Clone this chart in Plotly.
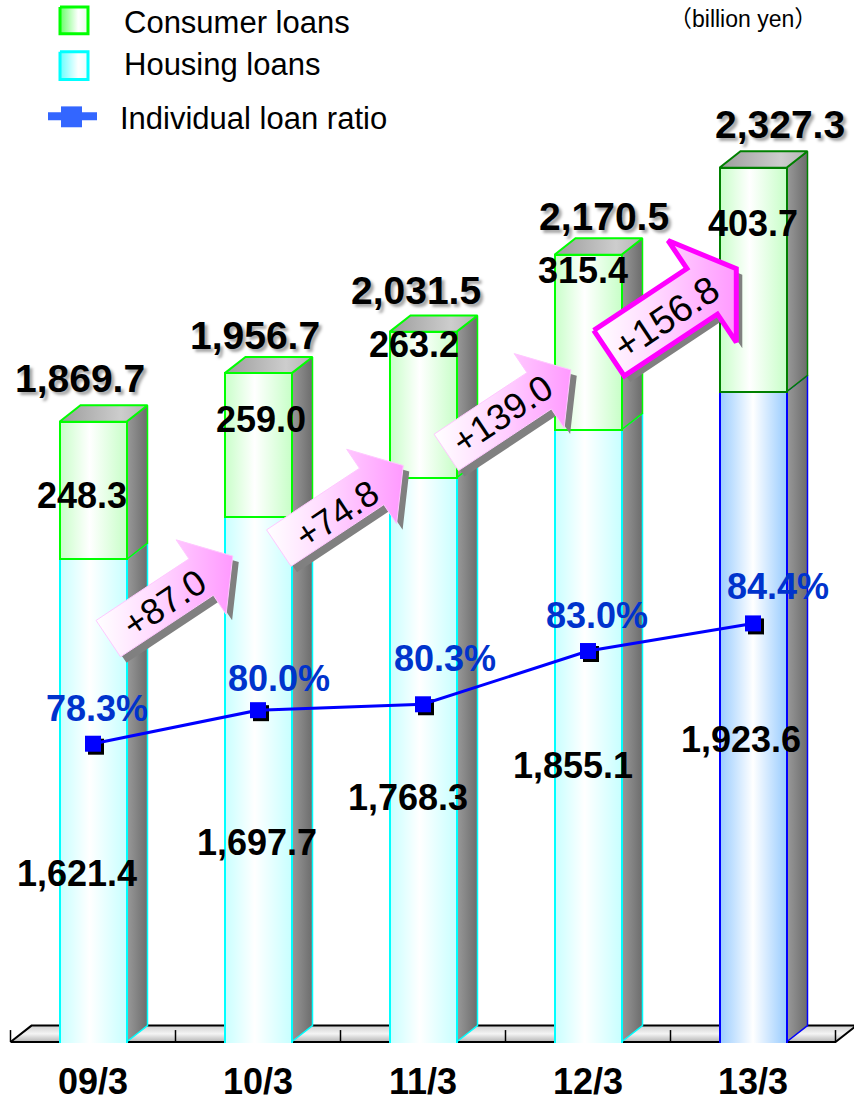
import math
import plotly.graph_objects as go

# ---------------- data ----------------
categories = ["09/3", "10/3", "11/3", "12/3", "13/3"]
housing_loans = [1621.4, 1697.7, 1768.3, 1855.1, 1923.6]
consumer_loans = [248.3, 259.0, 263.2, 315.4, 403.7]
total_loans = [1869.7, 1956.7, 2031.5, 2170.5, 2327.3]
loan_ratio = [78.3, 80.0, 80.3, 83.0, 84.4]
yoy_increase = [87.0, 74.8, 139.0, 156.8]

# ---------------- page / scale geometry (pixels) ----------------
FIG_W, FIG_H = 854, 1102
PLOT_H = 1049
X0_PX, X_STEP = 93.0, 165.0           # centre of first category, category pitch
FLOOR_PX, FLOOR_V, KY = 1048.0, 752.0, 0.5582   # left axis calibration
R_REF, R_REF_PX, KR = 78.3, 748.0, 19.836       # right axis calibration
BAR_PX = 67.0
DEPTH_X_PX, DEPTH_Y_PX = 21.0, 16.5
FONT = "Liberation Sans, Arial, sans-serif"


def px2x(px):
    return (px - X0_PX) / X_STEP


def px2y(py):
    return FLOOR_V + (FLOOR_PX - py) / KY


def px2r(py):
    return R_REF + (R_REF_PX - py) / KR


def pxp(px):
    return px / FIG_W


def pyp(py):
    return (PLOT_H - py) / PLOT_H


BAR_W = BAR_PX / X_STEP
DX = DEPTH_X_PX / X_STEP
DY = DEPTH_Y_PX / KY
idx = list(range(len(categories)))


def poly(pts, scale, line_color=None, line_width=0, gtype="horizontal", yaxis="y"):
    xs = [p[0] for p in pts] + [pts[0][0]]
    ys = [p[1] for p in pts] + [pts[0][1]]
    return go.Scatter(
        x=xs, y=ys, yaxis=yaxis, mode="lines", fill="toself",
        fillgradient=dict(type=gtype, colorscale=scale),
        line=dict(color=line_color or "rgba(0,0,0,0)", width=line_width),
        hoverinfo="skip", showlegend=False,
    )


traces = []

# ---------------- floor (main subplot) ----------------
fx0, fx1 = -0.5, len(categories) - 0.5
floor_pts = [(fx0, FLOOR_V), (fx1, FLOOR_V), (fx1 + DX, FLOOR_V + DY), (fx0 + DX, FLOOR_V + DY)]
traces.append(poly(floor_pts, [[0, "#b4b4b4"], [0.5, "#f4f4f4"], [1, "#d0d0d0"]],
                   "#000000", 2, gtype="vertical"))
tick_x, tick_y = [], []
for k in range(len(categories) + 1):
    tick_x += [k - 0.5, k - 0.5, None]
    tick_y += [FLOOR_V, FLOOR_V + 12 / KY, None]
traces.append(go.Scatter(x=tick_x, y=tick_y, mode="lines", line=dict(color="#000000", width=1.5),
                         hoverinfo="skip", showlegend=False))

# ---------------- 3D faces (main subplot) ----------------
side_scale = [[0, "#9a9a9a"], [1, "#6c6c6c"]]
top_scale = [[0, "#9c9c9c"], [0.7, "#cdcdcd"], [1, "#b4b4b4"]]
green_scale = [[0, "#c8ffc8"], [0.45, "#ffffff"], [1, "#c8ffc8"]]
cyan_scale = [[0, "#c8ffff"], [0.45, "#ffffff"], [1, "#c8ffff"]]
blue_scale = [[0, "#99ccff"], [0.5, "#ffffff"], [1, "#99ccff"]]

housing_line = ["#00ffff"] * 4 + ["#0000ff"]
consumer_line = ["#00ff00"] * 4 + ["#008000"]

for i in idx:
    h = housing_loans[i]
    t = housing_loans[i] + consumer_loans[i]
    x0, x1 = i - BAR_W / 2, i + BAR_W / 2
    traces.append(poly([(x1, FLOOR_V), (x1 + DX, FLOOR_V + DY), (x1 + DX, h + DY), (x1, h)],
                       side_scale, housing_line[i], 1.5))
    traces.append(poly([(x1, h), (x1 + DX, h + DY), (x1 + DX, t + DY), (x1, t)],
                       side_scale, consumer_line[i], 1.5))
    traces.append(poly([(x0, t), (x0 + DX, t + DY), (x1 + DX, t + DY), (x1, t)],
                       top_scale, consumer_line[i], 2))
    traces.append(poly([(x0, FLOOR_V - 10), (x1, FLOOR_V - 10), (x1, h), (x0, h)],
                       blue_scale if i == 4 else cyan_scale))
    traces.append(poly([(x0, h), (x1, h), (x1, t), (x0, t)], green_scale))

# ---------------- bars (outlines, overlay y2) ----------------
traces.append(go.Bar(x=idx, y=housing_loans, yaxis="y2", width=BAR_W, name="Housing loans",
                     marker=dict(color="rgba(0,0,0,0)", line=dict(color=housing_line, width=2)),
                     hoverinfo="skip", showlegend=False))
traces.append(go.Bar(x=idx, y=consumer_loans, yaxis="y2", width=BAR_W, name="Consumer loans",
                     marker=dict(color="rgba(0,0,0,0)", line=dict(color=consumer_line, width=2)),
                     hoverinfo="skip", showlegend=False))

# ---------------- increase arrows (overlay y3) ----------------
ARROW_ANGLE = 33.7
ARROWS = [
    dict(tail=(108.3, 642.3), L=149.6, W=44, H=90, HL=38, text=(164, 607), size=36, border="#ffc8ff", bw=1),
    dict(tail=(278.8, 551.2), L=149.6, W=44, H=90, HL=38, text=(336, 517), size=36, border="#ffc8ff", bw=1),
    dict(tail=(446.3, 455.0), L=149.6, W=44, H=90, HL=38, text=(502, 417), size=36, border="#ffc8ff", bw=1),
    dict(tail=(609.0, 355.2), L=153.0, W=55, H=123, HL=41, text=(666, 320), size=38, border="#ff00ff", bw=5),
]
arrow_scale = [[0, "#ffffff"], [0.4, "#ffdcff"], [1, "#ff99ff"]]


def arrow_px(tail, L, W, H, HL):
    th = math.radians(ARROW_ANGLE)
    ux, uy = math.cos(th), -math.sin(th)
    nx, ny = -uy, ux
    loc = [(0, -W / 2), (L - HL, -W / 2), (L - HL, -H / 2), (L, 0),
           (L - HL, H / 2), (L - HL, W / 2), (0, W / 2)]
    return [(tail[0] + s * ux + q * nx, tail[1] + s * uy + q * ny) for s, q in loc]


annotations = []
for a in ARROWS:
    pts = arrow_px(a["tail"], a["L"], a["W"], a["H"], a["HL"])
    sh = [(px2x(px + 6), px2y(py + 6)) for px, py in pts]
    traces.append(poly(sh, [[0, "#808080"], [1, "#808080"]], yaxis="y3"))
for a, inc in zip(ARROWS, yoy_increase):
    pts = arrow_px(a["tail"], a["L"], a["W"], a["H"], a["HL"])
    traces.append(poly([(px2x(px), px2y(py)) for px, py in pts], arrow_scale, a["border"], a["bw"],
                       yaxis="y3"))
    annotations.append(dict(x=pxp(a["text"][0]), y=pyp(a["text"][1]), xref="paper", yref="paper",
                            xanchor="center", yanchor="middle",
                            text=f"+{inc:.1f}", showarrow=False, textangle=-ARROW_ANGLE,
                            font=dict(family=FONT, size=a["size"], color="#000000")))

# ---------------- legend icons (overlay y3) ----------------
LEG = [("Consumer loans", (60, 7, 88, 34), "#00ff00",
        [[0, "#66ff66"], [0.65, "#ffffff"], [1, "#e6ffe6"]], 22.5),
       ("Housing loans", (60, 52, 88, 80), "#00ffff",
        [[0, "#66ffff"], [0.65, "#ffffff"], [1, "#e6ffff"]], 64.5)]
for label, (a0, b0, a1, b1), lc, sc, ty in LEG:
    traces.append(poly([(px2x(a0), px2y(b0)), (px2x(a1), px2y(b0)),
                        (px2x(a1), px2y(b1)), (px2x(a0), px2y(b1))], sc, lc, 3, yaxis="y3"))
    annotations.append(dict(x=pxp(122), y=pyp(ty), xref="paper", yref="paper", text=label,
                            showarrow=False, xanchor="left", yanchor="middle",
                            font=dict(family=FONT, size=31, color="#000000")))
annotations.append(dict(x=pxp(118), y=pyp(119), xref="paper", yref="paper", text="Individual loan ratio",
                        showarrow=False, xanchor="left", yanchor="middle",
                        font=dict(family=FONT, size=31, color="#000000")))
shapes = [
    dict(type="line", xref="paper", yref="paper", x0=pxp(48), x1=pxp(97), y0=pyp(117), y1=pyp(117),
         line=dict(color="#3366ff", width=8)),
    dict(type="rect", xref="paper", yref="paper", x0=pxp(61), x1=pxp(82), y0=pyp(107), y1=pyp(128),
         fillcolor="#3366ff", line=dict(width=0)),
]
annotations.append(dict(x=pxp(743), y=pyp(19), xref="paper", yref="paper", text="（billion yen）",
                        xanchor="center", yanchor="middle", showarrow=False,
                        font=dict(family=FONT + ", Noto Sans CJK JP", size=23, color="#000000")))

# ---------------- ratio line (x2/y4 shadow, x3/y5 line) ----------------
traces.append(go.Scatter(x=idx, y=loan_ratio, xaxis="x2", yaxis="y4", mode="markers",
                         marker=dict(symbol="square", size=16, color="#000000"),
                         hoverinfo="skip", showlegend=False))
traces.append(go.Scatter(x=idx, y=loan_ratio, xaxis="x3", yaxis="y5", mode="lines+markers",
                         name="Individual loan ratio",
                         line=dict(color="#0000ff", width=3),
                         marker=dict(symbol="square", size=16, color="#0000ff"),
                         hoverinfo="skip", showlegend=False))

# ---------------- value labels ----------------
TOTAL_POS = [(80, 381), (255, 337), (416, 292), (604, 218), (780, 125)]
CONS_POS = [(82, 498), (261, 422), (414, 346), (583, 272), (753, 225)]
HOUS_POS = [(77, 879), (257, 847), (408, 802), (573, 770), (741, 744)]
RATIO_POS = [(97, 713), (279, 682), (445, 662), (597, 619), (778, 590)]


def lab(pos, text, size, color="#000000", shadow=None):
    f = dict(family=FONT, size=size, color=color, weight="bold")
    if shadow:
        f["shadow"] = shadow
    return dict(x=pxp(pos[0]), y=pyp(pos[1]), xref="paper", yref="paper", xanchor="center",
                yanchor="middle", text=text, showarrow=False, font=f)


for i in idx:
    annotations.append(lab(TOTAL_POS[i], f"{total_loans[i]:,.1f}", 39,
                           shadow="3px 3px 3px rgba(0,0,0,0.35)"))
    annotations.append(lab(CONS_POS[i], f"{consumer_loans[i]:,.1f}", 36))
    annotations.append(lab(HOUS_POS[i], f"{housing_loans[i]:,.1f}", 36))
    annotations.append(lab(RATIO_POS[i], f"{loan_ratio[i]:.1f}%", 36, color="#0033cc"))

# ---------------- figure ----------------
xr = [px2x(0), px2x(FIG_W)]
yr = [px2y(PLOT_H), px2y(0)]
rr = [px2r(PLOT_H), px2r(0)]
SH = 3.0

fig = go.Figure(traces)
fig.update_layout(
    width=FIG_W, height=FIG_H,
    margin=dict(l=0, r=0, t=0, b=FIG_H - PLOT_H),
    paper_bgcolor="#ffffff", plot_bgcolor="rgba(0,0,0,0)",
    barmode="stack", bargap=0, showlegend=False,
    xaxis=dict(range=xr, tickmode="array", tickvals=idx, ticktext=categories,
               showgrid=False, zeroline=False, showline=False, ticks="",
               tickfont=dict(family=FONT, size=36, color="#000000", weight="bold"),
               ticklabelstandoff=14, fixedrange=True),
    yaxis=dict(range=yr, visible=False, fixedrange=True),
    yaxis2=dict(range=yr, overlaying="y", visible=False, fixedrange=True),
    yaxis3=dict(range=yr, overlaying="y", visible=False, fixedrange=True),
    xaxis2=dict(range=[xr[0] - SH / X_STEP, xr[1] - SH / X_STEP], overlaying="x",
                visible=False, fixedrange=True),
    yaxis4=dict(range=[rr[0] + SH / KR, rr[1] + SH / KR], overlaying="y", anchor="x2",
                visible=False, fixedrange=True),
    xaxis3=dict(range=xr, overlaying="x", visible=False, fixedrange=True),
    yaxis5=dict(range=rr, overlaying="y", anchor="x3", side="right", visible=False, fixedrange=True),
    annotations=annotations,
    shapes=shapes,
)

fig.write_html("out.html", config={"displayModeBar": False},
               post_script="document.body.style.margin='0px';")
